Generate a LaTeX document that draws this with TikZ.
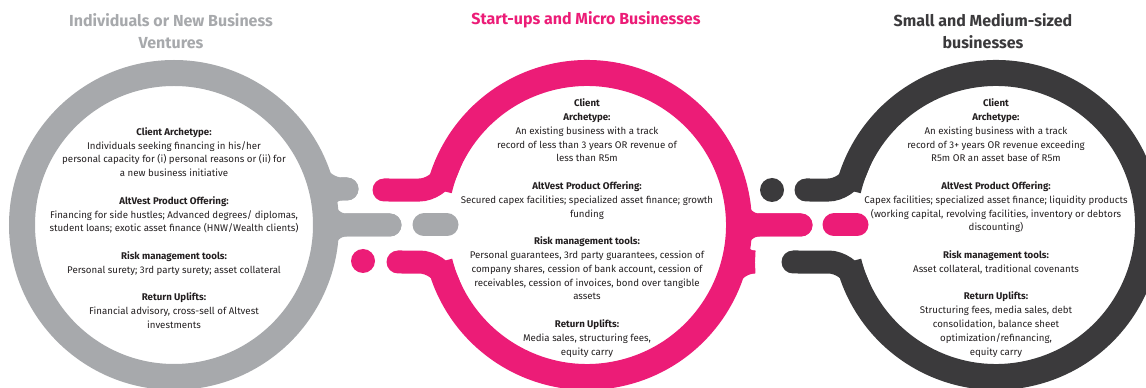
\documentclass[tikz,border=0pt]{standalone}
\usepackage{fontspec}
\setmainfont{Fira Sans}
\usetikzlibrary{calc}
\definecolor{altgray}{HTML}{A7A9AC}
\definecolor{altpink}{HTML}{EC1C77}
\definecolor{altdark}{HTML}{3B3A3C}
\definecolor{alttext}{HTML}{231F20}

\begin{document}
\begin{tikzpicture}[x=1pt,y=1pt,
    ring/.style={line width=26pt},
    arm/.style={line width=23pt,line cap=round,rounded corners=20pt},
    body/.style={align=center,text=alttext,font=\fontsize{9.7}{13.8}\selectfont},
    title/.style={align=center,font=\fontsize{16}{22}\selectfont\bfseries}]
  \useasboundingbox (0,0) rectangle (1146,388);
  \coordinate (gray) at (174,163);
  \coordinate (pink) at (587,163);
  \coordinate (dark) at (996,163);

  % the three rings
  \draw [ring,altgray] (gray) circle (152);
  \draw [ring,altpink] ([shift={(194.1:152)}]pink) arc [start angle=194.1, end angle=526.7, radius=152];
  \draw [ring,altdark] ([shift={(194.1:152)}]dark) arc [start angle=194.1, end angle=526.7, radius=152];

  % gray -> pink
  \draw [arm,altgray] ([shift={(26:152)}]gray) -- ([shift={(13.7:152)}]gray) -- (347,199);
  \draw [arm,altgray] ([shift={(2:152)}]gray) -- ([shift={(13.7:152)}]gray) -- (347,199);
  \draw [arm,altgray] ([shift={(12:152)}]gray) -- ([shift={(0:152)}]gray) -- (390,163);
  \draw [arm,altgray] ([shift={(-12:152)}]gray) -- ([shift={(0:152)}]gray) -- (390,163);
  \draw [arm,altgray] (424,163) -- (447,163);
  \fill [altpink] (363,127) circle (12);
  \draw [arm,altpink] (384,198) -- ([shift={(166.7:152)}]pink) -- ([shift={(150:152)}]pink);
  \draw [arm,altpink] (398,126) -- ([shift={(194.1:152)}]pink) -- ([shift={(210:152)}]pink);

  % pink -> dark
  \draw [arm,altpink] ([shift={(12:152)}]pink) -- ([shift={(0:152)}]pink) -- (801,163);
  \draw [arm,altpink] ([shift={(-12:152)}]pink) -- ([shift={(0:152)}]pink) -- (801,163);
  \draw [arm,altpink] ([shift={(-2:152)}]pink) -- ([shift={(-14.1:152)}]pink) -- (754,126);
  \draw [arm,altpink] ([shift={(-26:152)}]pink) -- ([shift={(-14.1:152)}]pink) -- (754,126);
  \draw [arm,altpink] (834,163) -- (857,163);
  \fill [altdark] (772,198) circle (12);
  \draw [arm,altdark] (806,198) -- ([shift={(166.7:152)}]dark) -- ([shift={(150:152)}]dark);
  \draw [arm,altdark] (793,126) -- ([shift={(194.1:152)}]dark) -- ([shift={(210:152)}]dark);

  % titles
  \node [title,text=altgray] (tgray) at (171,357) {Individuals or New Business\\Ventures};
  \node [title,text=altpink] (tpink) at (586,368) {Start-ups and Micro Businesses};
  \node [title,text=altdark] (tdark) at (983,357) {Small and Medium-sized\\businesses};

  % texts in the rings
  \node [body] (bgray) at ([yshift=-3pt]gray) {\textbf{Client Archetype:}\\
    Individuals seeking financing in his/her\\
    personal capacity for (i) personal reasons or (ii) for\\
    a new business initiative\\[13.8pt]
    \textbf{AltVest Product Offering:}\\
    Financing for side hustles; Advanced degrees/ diplomas,\\
    student loans; exotic asset finance (HNW/Wealth clients)\\[13.8pt]
    \textbf{Risk management tools:}\\
    Personal surety; 3rd party surety; asset collateral\\[13.8pt]
    \textbf{Return Uplifts:}\\
    Financial advisory, cross-sell of Altvest\\
    investments};
  \node [body] (bpink) at ([yshift=-3pt]pink) {\textbf{Client}\\
    \textbf{Archetype:}\\
    An existing business with a track\\
    record of less than 3 years OR revenue of\\
    less than R5m\\[13.8pt]
    \textbf{AltVest Product Offering:}\\
    Secured capex facilities; specialized asset finance; growth\\
    funding\\[13.8pt]
    \textbf{Risk management tools:}\\
    Personal guarantees, 3rd party guarantees, cession of\\
    company shares, cession of bank account, cession of\\
    receivables, cession of invoices, bond over tangible\\
    assets\\[13.8pt]
    \textbf{Return Uplifts:}\\
    Media sales, structuring fees,\\
    equity carry};
  \node [body] (bdark) at ([yshift=-3pt]dark) {\textbf{Client}\\
    \textbf{Archetype:}\\
    An existing business with a track\\
    record of 3+ years OR revenue exceeding\\
    R5m OR an asset base of R5m\\[13.8pt]
    \textbf{AltVest Product Offering:}\\
    Capex facilities; specialized asset finance; liquidity products\\
    (working capital, revolving facilities, inventory or debtors\\
    discounting)\\[13.8pt]
    \textbf{Risk management tools:}\\
    Asset collateral, traditional covenants\\[13.8pt]
    \textbf{Return Uplifts:}\\
    Structuring fees, media sales, debt\\
    consolidation, balance sheet\\
    optimization/refinancing,\\
    equity carry};
\end{tikzpicture}
\end{document}
